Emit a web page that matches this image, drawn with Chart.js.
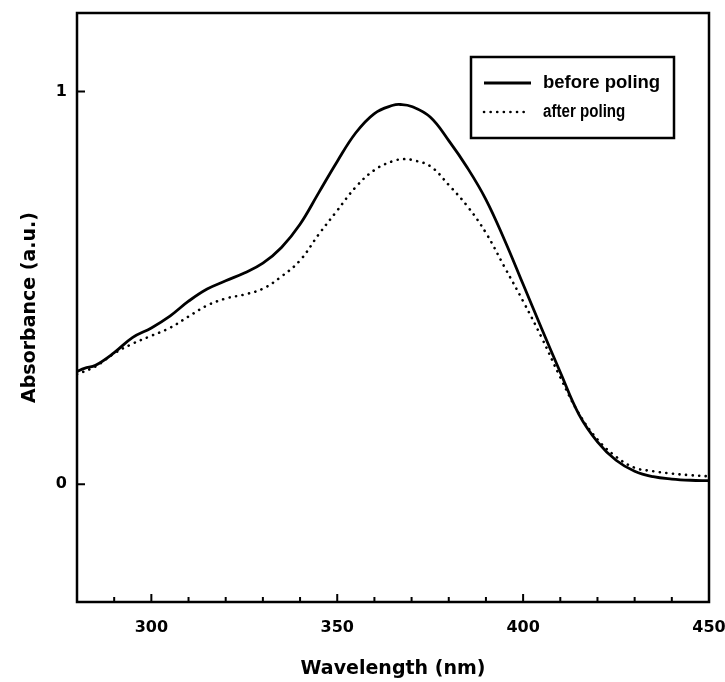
<!DOCTYPE html>
<html>
<head>
<meta charset="utf-8">
<script src="https://cdn.jsdelivr.net/npm/chart.js@4.4.1/dist/chart.umd.min.js"></script>
<style>
  html, body { margin: 0; padding: 0; background: #fff; }
  #wrap { width: 725px; height: 682px; }
</style>
</head>
<body>
<div id="wrap"><canvas id="spec"></canvas></div>
<script>
// data
var beforeX = [280, 282, 285, 290, 295, 300, 305, 310, 315, 320, 325, 330, 335, 340, 345, 350, 355, 360, 365, 367, 370, 375, 380, 385, 390, 395, 400, 405, 410, 415, 420, 425, 430, 435, 440, 445, 450];
var beforeY = [0.287, 0.295, 0.303, 0.335, 0.374, 0.398, 0.428, 0.466, 0.497, 0.518, 0.538, 0.563, 0.603, 0.662, 0.742, 0.822, 0.895, 0.944, 0.965, 0.967, 0.962, 0.935, 0.875, 0.806, 0.725, 0.622, 0.509, 0.396, 0.285, 0.178, 0.108, 0.061, 0.033, 0.019, 0.013, 0.010, 0.009];

var afterX = [280, 285, 290, 295, 300, 305, 310, 315, 320, 325, 330, 335, 340, 345, 350, 355, 360, 365, 368, 370, 375, 380, 385, 390, 395, 400, 405, 410, 415, 420, 425, 430, 435, 440, 445, 450];
var afterY = [0.280, 0.300, 0.333, 0.358, 0.378, 0.398, 0.427, 0.455, 0.473, 0.483, 0.498, 0.529, 0.570, 0.636, 0.697, 0.757, 0.800, 0.823, 0.828, 0.826, 0.810, 0.762, 0.708, 0.640, 0.553, 0.466, 0.373, 0.272, 0.180, 0.114, 0.070, 0.042, 0.033, 0.027, 0.023, 0.020];

var xTickValues = [300, 350, 400, 450];
var xMinorTicks = [290, 310, 320, 330, 340, 360, 370, 380, 390, 410, 420, 430, 440];
var yTickValues = [0, 1];

var seriesNames = ['before poling', 'after poling'];

var tickFont = { family: '"DejaVu Sans", sans-serif', size: 16, weight: 'bold' };
var titleFont = { family: '"DejaVu Sans", sans-serif', size: 19, weight: 'bold' };

function toPoints(xs, ys) {
    return xs.map(function (x, i) { return { x: x, y: ys[i] }; });
}

// labels may overhang the plot, like in the original
function noOverhang(scale) {
    scale.paddingLeft = 0;
    scale.paddingRight = 0;
    scale.paddingTop = 0;
    scale.paddingBottom = 0;
}

// frame + inward ticks
var frameTicks = {
    id: 'frameTicks',
    afterDraw: function (chart) {
        var ctx = chart.ctx;
        var a = chart.chartArea;
        var xs = chart.scales.x, ys = chart.scales.y;
        ctx.save();
        ctx.strokeStyle = '#000';
        ctx.lineWidth = 2.5;
        ctx.strokeRect(a.left, a.top, a.right - a.left, a.bottom - a.top);
        ctx.lineWidth = 2;
        ctx.beginPath();
        xTickValues.forEach(function (v) {
            var px = xs.getPixelForValue(v);
            ctx.moveTo(px, a.bottom);
            ctx.lineTo(px, a.bottom - 8);
        });
        xMinorTicks.forEach(function (v) {
            var px = xs.getPixelForValue(v);
            ctx.moveTo(px, a.bottom);
            ctx.lineTo(px, a.bottom - 5);
        });
        yTickValues.forEach(function (v) {
            var py = ys.getPixelForValue(v);
            ctx.moveTo(a.left, py);
            ctx.lineTo(a.left + 8, py);
        });
        ctx.stroke();
        ctx.restore();
    }
};

// legend box inside the plot
var boxLegend = {
    id: 'boxLegend',
    afterDraw: function (chart) {
        var ctx = chart.ctx;
        ctx.save();
        ctx.strokeStyle = '#000';
        ctx.lineWidth = 2.5;
        ctx.strokeRect(471, 57, 203, 81);
        var rows = [
            { y: 83, ds: chart.data.datasets[0], font: 'bold 18.5px "Liberation Sans", Arial, sans-serif', sx: 1, x2: 531 },
            { y: 112, ds: chart.data.datasets[1], font: 'bold 18px "Liberation Sans", Arial, sans-serif', sx: 0.84, x2: 528 }
        ];
        rows.forEach(function (r) {
            ctx.beginPath();
            ctx.lineWidth = r.ds.borderWidth;
            ctx.lineCap = r.ds.borderCapStyle || 'butt';
            ctx.setLineDash(r.ds.borderDash || []);
            ctx.moveTo(484, r.y);
            ctx.lineTo(r.x2, r.y);
            ctx.stroke();
            ctx.setLineDash([]);
            ctx.save();
            ctx.translate(543, r.y);
            ctx.scale(r.sx, 1);
            ctx.fillStyle = '#000';
            ctx.font = r.font;
            ctx.textBaseline = 'middle';
            ctx.fillText(r.ds.label, 0, 0);
            ctx.restore();
        });
        ctx.restore();
    }
};

new Chart(document.getElementById('spec'), {
    type: 'line',
    data: {
        datasets: [{
            label: seriesNames[0],
            data: toPoints(beforeX, beforeY),
            borderColor: '#000',
            borderWidth: 2.8,
            pointRadius: 0,
            tension: 0.4,
            fill: false
        }, {
            label: seriesNames[1],
            data: toPoints(afterX, afterY),
            borderColor: '#000',
            borderWidth: 2.6,
            borderDash: [0.1, 6.5],
            borderCapStyle: 'round',
            pointRadius: 0,
            tension: 0.4,
            fill: false
        }]
    },
    options: {
        responsive: true,
        maintainAspectRatio: false,
        animation: false,
        layout: { padding: { left: 0, top: 13, right: 16, bottom: 0 } },
        scales: {
            x: {
                type: 'linear',
                min: 280,
                max: 450,
                afterBuildTicks: function (scale) {
                    scale.ticks = xTickValues.map(function (v) { return { value: v }; });
                },
                afterFit: function (scale) { scale.height = 80; noOverhang(scale); },
                grid: { display: false, drawTicks: false },
                border: { display: false },
                ticks: {
                    color: '#000',
                    padding: 16,
                    maxRotation: 0,
                    font: tickFont
                },
                title: {
                    display: true,
                    text: 'Wavelength (nm)',
                    color: '#000',
                    padding: { top: 0, bottom: 2 },
                    font: titleFont
                }
            },
            y: {
                type: 'linear',
                min: -0.3,
                max: 1.2,
                afterBuildTicks: function (scale) {
                    scale.ticks = yTickValues.map(function (v) { return { value: v }; });
                },
                afterFit: function (scale) { scale.width = 77; noOverhang(scale); },
                grid: { display: false, drawTicks: false },
                border: { display: false },
                ticks: {
                    color: '#000',
                    padding: 10,
                    font: tickFont
                },
                title: {
                    display: true,
                    text: 'Absorbance (a.u.)',
                    color: '#000',
                    padding: { top: 19, bottom: 0 },
                    font: titleFont
                }
            }
        },
        plugins: {
            legend: { display: false },
            tooltip: { enabled: false }
        }
    },
    plugins: [frameTicks, boxLegend]
});
</script>
</body>
</html>
